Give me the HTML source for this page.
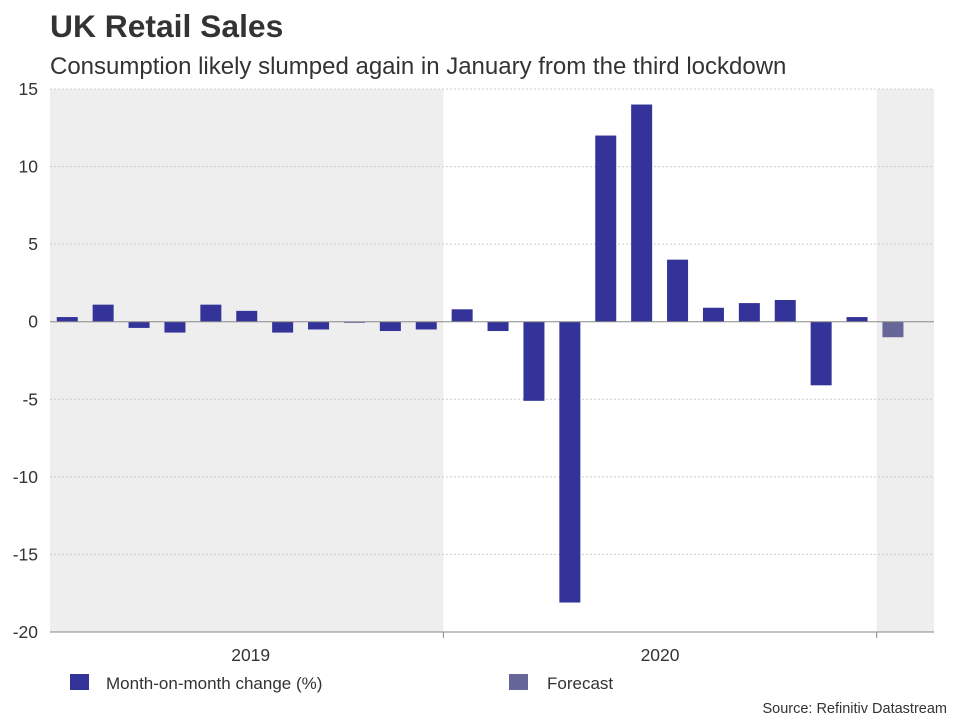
<!DOCTYPE html>
<html><head><meta charset="utf-8"><style>
body{margin:0;background:#fff;font-family:"Liberation Sans",Arial,sans-serif;}
#wrap{position:relative;width:960px;height:720px;overflow:hidden;}
</style></head><body>
<div id="wrap">
<svg id="chart" width="960" height="720" xmlns="http://www.w3.org/2000/svg">
<text x="50" y="37" font-size="31.8" font-weight="bold" fill="#333">UK Retail Sales</text>
<text x="50" y="74" font-size="24" fill="#333">Consumption likely slumped again in January from the third lockdown</text>
<g id="plot"></g>
<rect x="70" y="674" width="19" height="16" fill="#333399"/>
<text x="106" y="689" font-size="17" fill="#333">Month-on-month change (%)</text>
<rect x="509" y="674" width="19" height="16" fill="#666699"/>
<text x="547" y="689" font-size="17" fill="#333">Forecast</text>
<text x="947" y="713" font-size="14.5" fill="#333" text-anchor="end">Source: Refinitiv Datastream</text>
</svg>
</div>
<script>
const months = ["Feb19","Mar19","Apr19","May19","Jun19","Jul19","Aug19","Sep19","Oct19","Nov19","Dec19","Jan20","Feb20","Mar20","Apr20","May20","Jun20","Jul20","Aug20","Sep20","Oct20","Nov20","Dec20","Jan21"];
const values = [0.3,1.1,-0.4,-0.7,1.1,0.7,-0.7,-0.5,-0.05,-0.6,-0.5,0.8,-0.6,-5.1,-18.1,12,14,4,0.9,1.2,1.4,-4.1,0.3,-1.0];
const isForecast = [0,0,0,0,0,0,0,0,0,0,0,0,0,0,0,0,0,0,0,0,0,0,0,1];
const yTicks = [15,10,5,0,-5,-10,-15,-20];
const yearLabels = ["2019","2020"];

const NS="http://www.w3.org/2000/svg";
const g=document.getElementById('plot');
const X0=50,X1=934,Y0=89,Y1=632,slot=35.9,bw=21;
const yMin=-20,yMax=15;
function y(v){return Y0+(yMax-v)/(yMax-yMin)*(Y1-Y0);}
function xc(i){return X0+(i+0.5)*slot-0.7;}
function mk(t,a){const e=document.createElementNS(NS,t);for(const k in a)e.setAttribute(k,a[k]);g.appendChild(e);return e;}

let e;
const split=X0+11*slot-1.5, fstart=X0+23*slot+1;
e=mk('rect',{x:X0,y:Y0,width:split-X0,height:Y1-Y0,fill:'#eeeeee'});


e=mk('rect',{x:fstart,y:Y0,width:X1-fstart,height:Y1-Y0,fill:'#eeeeee'});



yTicks.forEach(t=>{
  if(t!==0){
    e=mk('line',{x1:X0,x2:X1,y1:y(t),y2:y(t),stroke:'#cccccc','stroke-width':1,'stroke-dasharray':'2,2'});
    
    
  }
  e=mk('text',{x:38,y:y(t)+6,'font-size':17.5,fill:'#333','text-anchor':'end'});
  e.textContent=t;
  
  
});

values.forEach((v,i)=>{
  const top=Math.min(y(v),y(0)),h=Math.max(Math.abs(y(v)-y(0)),1);
  e=mk('rect',{x:xc(i)-bw/2,y:top,width:bw,height:h,fill:isForecast[i]?'#666699':'#333399'});
  
  
});

e=mk('line',{x1:X0,x2:X1,y1:y(0),y2:y(0),stroke:'#888','stroke-width':1});


e=mk('line',{x1:X0,x2:X1,y1:Y1,y2:Y1,stroke:'#888','stroke-width':1});


[split,fstart].forEach(px=>{
  e=mk('line',{x1:px,x2:px,y1:Y1,y2:Y1+6,stroke:'#888','stroke-width':1});
  
  
});
const yl=[(X0+split)/2+4,(split+fstart)/2];
yearLabels.forEach((l,i)=>{
  e=mk('text',{x:yl[i],y:661,'font-size':17.5,fill:'#333','text-anchor':'middle'});
  e.textContent=l;
  
  
});
</script>
</body></html>
